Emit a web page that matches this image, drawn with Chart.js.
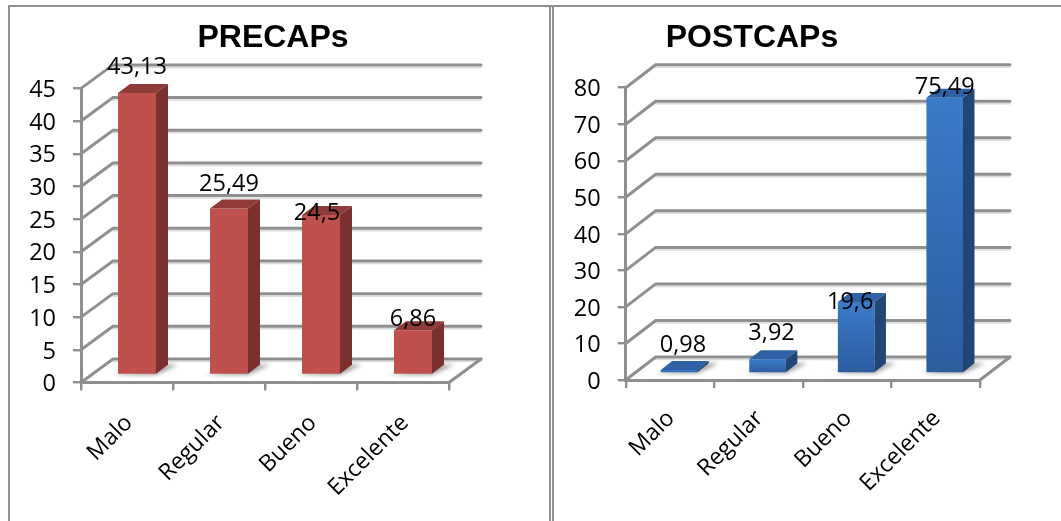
<!DOCTYPE html>
<html>
<head>
<meta charset="utf-8">
<title>PRECAPs / POSTCAPs</title>
<script src="https://cdn.jsdelivr.net/npm/chart.js@4"></script>
<style>
    html, body { margin: 0; padding: 0; background: #fff; overflow: hidden; }
    body { position: relative; width: 1061px; height: 521px; }
    canvas { position: absolute; top: 0; }
    #preChart { left: 0; }
    #postChart { left: 553px; }
    .frame { position: absolute; background: #8f8f8f; }
</style>
</head>
<body>
<div class="frame" style="left:8px;top:5px;width:1053px;height:2px"></div>
<div class="frame" style="left:8px;top:5px;width:2px;height:516px"></div>
<div class="frame" style="left:549px;top:5px;width:2px;height:516px"></div>
<div class="frame" style="left:552px;top:5px;width:2px;height:516px"></div>
<canvas id="preChart" width="551" height="521"></canvas>
<canvas id="postChart" width="508" height="521"></canvas>
<script>
const categories = ["Malo", "Regular", "Bueno", "Excelente"]
const preValues = [43.13, 25.49, 24.5, 6.86]
const postValues = [0.98, 3.92, 19.6, 75.49]

const gridColor = "#8f8f8f"
const textFont = "'Open Sans'"

function comma(v) {
    return String(v).replace(".", ",")
}

// back wall, side wall and floor, then the depth faces of each bar
const box3d = {
    id: "box3d",
    afterLayout(chart, args, o) {
        chart.titleBlock.left = o.titleX - 150
        chart.titleBlock.right = o.titleX + 150
    },
    beforeDatasetsDraw(chart, args, o) {
        const ctx = chart.ctx
        const ys = chart.scales.y
        const area = chart.chartArea
        const w = o.wall

        ctx.save()
        ctx.lineCap = "round"
        ys.ticks.forEach(t => {
            const y = ys.getPixelForValue(t.value)
            ctx.strokeStyle = "#dcdcdc"
            ctx.lineWidth = 1.5
            ctx.beginPath()
            ctx.moveTo(area.left + w.dx, y - w.dy + 2.5)
            ctx.lineTo(area.right + w.dx, y - w.dy + 2.5)
            ctx.stroke()
            ctx.strokeStyle = gridColor
            ctx.lineWidth = 3
            ctx.beginPath()
            ctx.moveTo(area.left, y)
            ctx.lineTo(area.left + w.dx, y - w.dy)
            ctx.lineTo(area.right + w.dx, y - w.dy)
            ctx.stroke()
        })
        ctx.beginPath()
        ctx.moveTo(area.right, area.bottom)
        ctx.lineTo(area.right + w.dx, area.bottom - w.dy)
        ctx.stroke()

        // soft shadow the bars throw on the floor
        const meta = chart.getDatasetMeta(0)
        ctx.filter = "blur(2px)"
        ctx.fillStyle = "rgba(105,105,105,0.65)"
        meta.data.forEach(bar => {
            const l = bar.x - bar.width / 2 + o.shift.x
            const r = bar.x + bar.width / 2 + o.shift.x
            const b = bar.base + o.shift.y
            ctx.beginPath()
            ctx.moveTo(l - 5, b + 1)
            ctx.lineTo(r, b + 1)
            ctx.lineTo(r + o.depth.x + 10, b - o.depth.y)
            ctx.lineTo(r + o.depth.x, b - o.depth.y)
            ctx.closePath()
            ctx.fill()
        })
        ctx.restore()

        // bars sit on the middle of the floor
        ctx.save()
        ctx.translate(o.shift.x, o.shift.y)
    },
    afterDatasetsDraw(chart, args, o) {
        const ctx = chart.ctx
        const d = o.depth
        const meta = chart.getDatasetMeta(0)
        meta.data.forEach(bar => {
            const l = bar.x - bar.width / 2
            const r = bar.x + bar.width / 2
            const t = bar.y
            const b = bar.base
            ctx.fillStyle = o.sideColor
            ctx.beginPath()
            ctx.moveTo(r, t)
            ctx.lineTo(r + d.x, t - d.y)
            ctx.lineTo(r + d.x, b - d.y)
            ctx.lineTo(r, b)
            ctx.closePath()
            ctx.fill()
            ctx.fillStyle = o.topColor
            ctx.beginPath()
            ctx.moveTo(l, t)
            ctx.lineTo(l + d.x, t - d.y)
            ctx.lineTo(r + d.x, t - d.y)
            ctx.lineTo(r, t)
            ctx.closePath()
            ctx.fill()
        })
        ctx.restore()

        // value labels, hand placed around the top of the bars
        ctx.save()
        ctx.fillStyle = "#000"
        ctx.font = "23.5px " + textFont
        ctx.textAlign = "center"
        ctx.textBaseline = "middle"
        meta.data.forEach((bar, i) => {
            const off = o.labelOffsets[i]
            const v = chart.data.datasets[0].data[i]
            ctx.fillText(comma(v), bar.x + o.shift.x + off[0], bar.y + o.shift.y + off[1] + 1.5)
        })
        ctx.restore()
    }
}

function makeChart(id, title, values, cfg) {
    const el = document.getElementById(id)
    return new Chart(el, {
        type: "bar",
        data: {
            labels: categories,
            datasets: [
                {
                    label: title,
                    data: values,
                    barPercentage: 0.413,
                    categoryPercentage: 1,
                    clip: false,
                    backgroundColor: function (c) {
                        if (!cfg.faceTop) return cfg.face
                        const ys = c.chart.scales.y
                        if (!ys || c.raw === undefined) return cfg.face
                        const y0 = ys.getPixelForValue(c.raw)
                        const y1 = ys.getPixelForValue(0)
                        if (!Number.isFinite(y0) || !Number.isFinite(y1)) return cfg.face
                        const g = c.chart.ctx.createLinearGradient(0, y0, 0, y1)
                        g.addColorStop(0, cfg.faceTop)
                        g.addColorStop(1, cfg.face)
                        return g
                    }
                }
            ]
        },
        options: {
            responsive: false,
            animation: false,
            layout: { padding: { left: 0, right: cfg.padRight, top: 0, bottom: 0 } },
            plugins: {
                legend: { display: false },
                tooltip: { enabled: false },
                title: {
                    display: true,
                    text: title,
                    color: "#000",
                    font: { family: "'Liberation Sans'", size: 32, weight: "bold", lineHeight: 1.2 },
                    padding: { top: cfg.titleTop, bottom: cfg.titleBottom }
                },
                box3d: {
                    titleX: cfg.titleX,
                    wall: cfg.wall,
                    shift: cfg.shift,
                    depth: cfg.depth,
                    sideColor: cfg.side,
                    topColor: cfg.top,
                    labelOffsets: cfg.labelOffsets
                }
            },
            scales: {
                x: {
                    afterFit(scale) { scale.height = cfg.xHeight },
                    grid: { drawOnChartArea: false, color: gridColor, lineWidth: 2.4, tickLength: 8 },
                    border: { color: gridColor, width: 3 },
                    ticks: {
                        color: "#000",
                        font: { family: textFont, size: 23 },
                        maxRotation: 45,
                        minRotation: 45,
                        padding: cfg.xPad,
                        labelOffset: cfg.xShift
                    }
                },
                y: {
                    min: 0,
                    max: cfg.max,
                    afterFit(scale) { scale.width = cfg.yWidth },
                    grid: { drawOnChartArea: false, color: gridColor, lineWidth: 2.4, tickLength: 8 },
                    border: { color: gridColor, width: 3 },
                    ticks: {
                        stepSize: cfg.step,
                        color: "#000",
                        font: { family: textFont, size: 23.5 },
                        padding: 17,
                        labelOffset: 2
                    }
                }
            }
        },
        plugins: [box3d]
    })
}

const preChart = makeChart("preChart", "PRECAPs", preValues, {
    max: 45, step: 5,
    yWidth: 81, xHeight: 138.5, padRight: 102,
    titleX: 273, titleTop: 19, titleBottom: 31, xPad: 19, xShift: 2,
    wall: { dx: 32, dy: 23.5 },
    shift: { x: 10, y: -7.5 },
    depth: { x: 12, y: 9 },
    face: "#c0504d", side: "#7a302e", top: "#8f3b39",
    labelOffsets: [[0, -27], [0, -26], [-4, -3], [0, -12]]
})

const postChart = makeChart("postChart", "POSTCAPs", postValues, {
    max: 80, step: 10,
    yWidth: 72.7, xHeight: 141, padRight: 81,
    titleX: 199, titleTop: 18.5, titleBottom: 30.8, xPad: 17, xShift: 1,
    wall: { dx: 30, dy: 23 },
    shift: { x: 9, y: -6.5 },
    depth: { x: 11.5, y: 9 },
    face: "#2b5c9e", faceTop: "#3b7bc9", side: "#214673", top: "#2e62a4",
    labelOffsets: [[4, -26], [4, -27], [-6, -1.5], [0, -12]]
})
</script>
</body>
</html>
